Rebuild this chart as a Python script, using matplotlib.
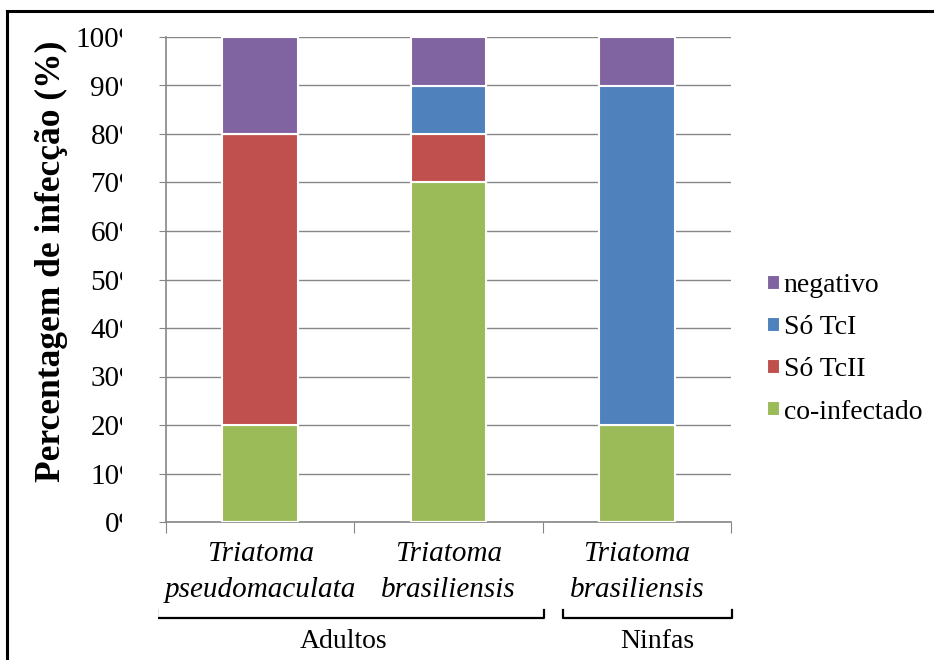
import numpy as np
import matplotlib.pyplot as plt
from matplotlib.lines import Line2D
from matplotlib.patches import Rectangle
from matplotlib.transforms import blended_transform_factory

plt.rcParams['font.family'] = ['Liberation Serif', 'DejaVu Serif']
plt.rcParams['font.serif'] = ['Liberation Serif']

species = ['Triatoma\npseudomaculata', 'Triatoma\nbrasiliensis', 'Triatoma\nbrasiliensis']
groups = ['Adultos', 'Ninfas']
series = ['co-infectado', 'Só TcII', 'Só TcI', 'negativo']
co_infectado = [20, 70, 20]
so_tcii = [60, 10, 0]
so_tci = [0, 10, 70]
negativo = [20, 10, 10]
colors = ['#9BBB59', '#C0504D', '#4F81BD', '#8064A2']
yticks = np.arange(0, 101, 10)

W, H = 934, 660
fig = plt.figure(figsize=(W / 100, H / 100), dpi=100)
ax = fig.add_axes([166 / W, 1 - 522 / H, 565 / W, 485 / H])

x = np.arange(len(species))
bottom = np.zeros(len(species))
handles = []
for name, vals, c in zip(series, [co_infectado, so_tcii, so_tci, negativo], colors):
    b = ax.bar(x, vals, width=0.4, bottom=bottom, color=c, edgecolor='white',
               linewidth=1.5, label=name, zorder=3)
    handles.append(b)
    bottom += np.array(vals)

ax.set_xlim(-0.5, 2.5)
ax.set_ylim(0, 100)
ax.set_yticks(yticks)
ax.set_yticklabels([f'{v}%' for v in yticks], fontsize=21, family='Liberation Serif')
ax.grid(axis='y', color='#868686', linewidth=1, zorder=0)
for s in ['top', 'right']:
    ax.spines[s].set_visible(False)
for s in ['left', 'bottom']:
    ax.spines[s].set_color('#868686')
    ax.spines[s].set_linewidth(1.2)
ax.tick_params(axis='y', length=5, color='#868686', pad=11)

# category boundaries as tick marks, species names in between
ax.set_xticks([-0.5, 0.5, 1.5, 2.5])
ax.set_xticklabels([])
ax.tick_params(axis='x', which='major', length=8, color='#868686')
ax.set_xticks(x, minor=True)
ax.set_xticklabels(species, minor=True, fontsize=21, style='italic',
                   family='Liberation Serif', linespacing=1.5)
ax.tick_params(axis='x', which='minor', length=0, pad=14)

ax.set_ylabel('Percentagem de infecção (%)', fontsize=25.5, fontweight='bold',
              family='Liberation Serif')
ax.yaxis.label.set_va('center')
ax.yaxis.set_label_coords((51 - 166) / 565, (522 - 261) / 485)

# the label column is narrower than the tick text, so the percent signs get cut
fig.add_artist(Rectangle((122 / W, 20 / H), 36 / W, 620 / H, facecolor='white',
                         edgecolor='none', transform=fig.transFigure, zorder=5))

# group brackets under the species names
tr = blended_transform_factory(ax.transData, ax.transAxes)
y_top = (522 - 610) / 485
y_bot = (522 - 618) / 485
for x0, x1 in [(-0.548, 1.508), (1.607, 2.505)]:
    ax.plot([x0, x0, x1, x1], [y_top, y_bot, y_bot, y_top], color='black',
            linewidth=1.6, transform=tr, clip_on=False)
ax.text(0.445, (522 - 641) / 485, groups[0], transform=tr, ha='center', va='center',
        fontsize=20, family='Liberation Serif')
ax.text(2.107, (522 - 641) / 485, groups[1], transform=tr, ha='center', va='center',
        fontsize=20, family='Liberation Serif')

leg = fig.legend(handles[::-1], series[::-1], loc='upper left',
                 bbox_to_anchor=(767 / W, 1 - 273 / H), frameon=False,
                 prop={'family': 'Liberation Serif', 'size': 20},
                 handlelength=0.45, handleheight=0.45, handletextpad=0.15,
                 labelspacing=0.62, borderaxespad=0, borderpad=0)

# frame lines along the top and left edges
fig.add_artist(Line2D([7 / W, 1], [1 - 11 / H, 1 - 11 / H], color='black', linewidth=2.2))
fig.add_artist(Line2D([7 / W, 7 / W], [0, 1 - 11 / H], color='black', linewidth=2.2))

fig.savefig('out.png', dpi=100)
